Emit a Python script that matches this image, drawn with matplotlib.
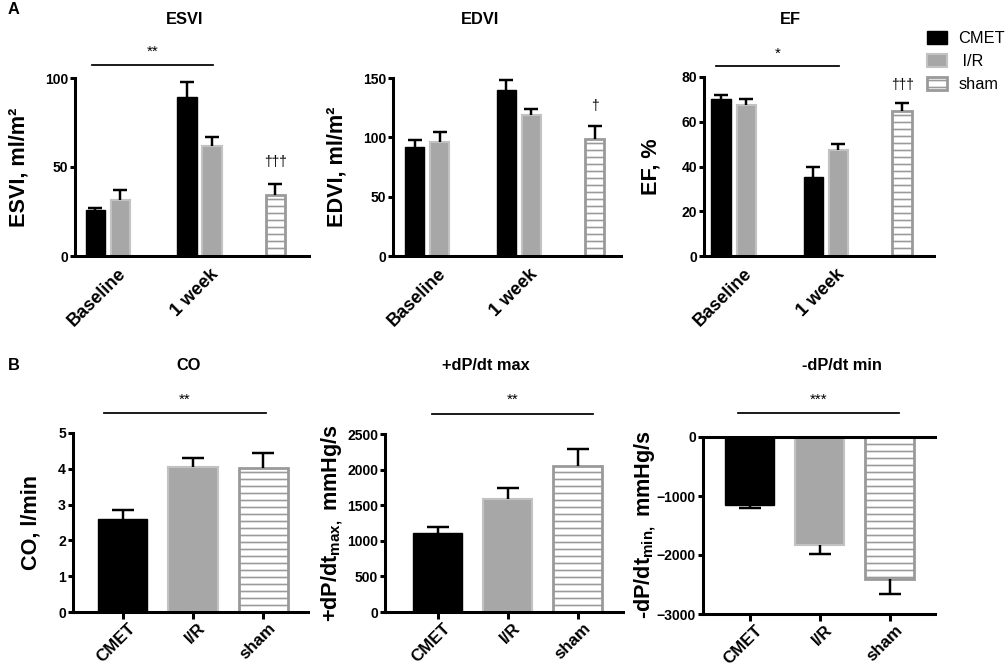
import numpy as np
import matplotlib
matplotlib.use("Agg")
import matplotlib.pyplot as plt
from matplotlib.lines import Line2D
from matplotlib.transforms import ScaledTranslation

plt.rcParams['font.family'] = ['Liberation Sans', 'DejaVu Sans']
plt.rcParams['font.weight'] = 'bold'
plt.rcParams['axes.labelweight'] = 'bold'
plt.rcParams['mathtext.fontset'] = 'custom'
plt.rcParams['mathtext.rm'] = 'Liberation Sans:bold'
plt.rcParams['mathtext.bf'] = 'Liberation Sans:bold'
plt.rcParams['hatch.linewidth'] = 1.4

# ---- data ----
groups = ['CMET', 'I/R', 'sham']
time_labels = ['Baseline', '1 week']

# echo: CMET / I/R at baseline and 1 week, sham single value
esvi_cmet = [25.7, 89.5]
esvi_cmet_err = [1.5, 8.1]
esvi_ir = [31.5, 61.9]
esvi_ir_err = [5.3, 4.7]
esvi_sham = [34.0]
esvi_sham_err = [6.3]

edvi_cmet = [91.6, 140.1]
edvi_cmet_err = [6.2, 7.9]
edvi_ir = [96.4, 118.4]
edvi_ir_err = [8.2, 5.6]
edvi_sham = [99.0]
edvi_sham_err = [10.7]

ef_cmet = [70.1, 35.3]
ef_cmet_err = [1.9, 4.4]
ef_ir = [67.3, 47.4]
ef_ir_err = [2.8, 2.5]
ef_sham = [65.0]
ef_sham_err = [3.4]

# haemodynamics: CMET, I/R, sham
co = [2.61, 4.05, 4.02]
co_err = [0.25, 0.25, 0.41]
dpdt_max = [1111, 1581, 2054]
dpdt_max_err = [80, 159, 240]
dpdt_min = [-1148, -1829, -2409]
dpdt_min_err = [51, 158, 253]

# ---- layout ----
W, H, DPI = 1008, 667, 84
fig = plt.figure(figsize=(W / DPI, H / DPI), dpi=DPI)

def px_rect(x0, x1, y0, y1):
    return [x0 / W, 1 - y1 / H, (x1 - x0) / W, (y1 - y0) / H]

STYLE = {
    'CMET': dict(facecolor='#000000', edgecolor='#000000', linewidth=1.2),
    'I/R': dict(facecolor='#a7a7a7', edgecolor='#c2c2c2', linewidth=1.8),
    'sham': dict(facecolor='white', edgecolor='#9a9a9a', linewidth=2.4, hatch='--'),
}

def err_bars(ax, x, vals, errs, capsize):
    vals = np.asarray(vals, float)
    errs = np.asarray(errs, float)
    neg = vals < 0
    lo = np.where(neg, errs, 0)
    hi = np.where(neg, 0, errs)
    _, caps, _ = ax.errorbar(x, vals, yerr=[lo, hi], fmt='none', ecolor='black',
                             elinewidth=2.1, capsize=capsize, capthick=2.1, zorder=3)
    for c in caps:
        if np.allclose(np.asarray(c.get_ydata(), float), vals):
            c.set_visible(False)

def style_axes(ax, ylim, yticks):
    for s in ['top', 'right']:
        ax.spines[s].set_visible(False)
    for s in ['left', 'bottom']:
        ax.spines[s].set_linewidth(2.6)
    ax.set_ylim(ylim)
    ax.set_yticks(yticks)
    ax.tick_params(axis='y', length=4.5, width=2.6, labelsize=12, pad=1.5)

def shift_labels(ax, dx_px):
    off = ScaledTranslation(dx_px / DPI, 0, fig.dpi_scale_trans)
    for lab in ax.get_xticklabels():
        lab.set_transform(lab.get_transform() + off)

def set_ylabel_px(ax, text, rect_, xpx, ypx):
    ax.set_ylabel(text, fontsize=18.5, fontweight='bold')
    x0, y0, w, h = rect_
    ax.yaxis.set_label_coords((xpx / W - x0) / w, ((1 - ypx / H) - y0) / h)

def sig_line(x0, x1, y, stars, ystar):
    fig.add_artist(Line2D([x0 / W, x1 / W], [1 - y / H, 1 - y / H], color='black', lw=1.5))
    fig.text((x0 + x1) / 2 / W, 1 - ystar / H, stars, ha='center', va='center',
             fontsize=13, fontweight='normal')

pos_cmet = [0, 3.67]
pos_ir = [1, 4.67]
pos_sham = [7.2]
bw_top = 0.77

def top_panel(rect_, cm, cm_e, ir, ir_e, sh, sh_e, ylim, yticks, xlim, ylabel, lab_px, title, title_px):
    ax = fig.add_axes(rect_)
    bars = []
    bars.append(ax.bar(pos_cmet, cm, bw_top, label='CMET', **STYLE['CMET']))
    bars.append(ax.bar(pos_ir, ir, bw_top, label='I/R', **STYLE['I/R']))
    bars.append(ax.bar(pos_sham, sh, bw_top, label='sham', **STYLE['sham']))
    err_bars(ax, pos_cmet, cm, cm_e, 6)
    err_bars(ax, pos_ir, ir, ir_e, 6)
    err_bars(ax, pos_sham, sh, sh_e, 6)
    style_axes(ax, ylim, yticks)
    ax.set_xlim(xlim)
    ax.set_xticks([(a + b) / 2 for a, b in zip(pos_cmet, pos_ir)])
    ax.set_xticklabels(time_labels, rotation=45, ha='right', va='top',
                       rotation_mode='anchor', fontsize=15.5, fontweight='bold')
    ax.tick_params(axis='x', length=0, pad=8)
    shift_labels(ax, 10)
    set_ylabel_px(ax, ylabel, rect_, *lab_px)
    fig.text(title_px[0] / W, 1 - title_px[1] / H, title, ha='center', va='center', fontsize=14)
    return ax, bars

r = px_rect(75, 309, 78, 256)
ax1, _ = top_panel(r, esvi_cmet, esvi_cmet_err, esvi_ir, esvi_ir_err, esvi_sham, esvi_sham_err,
                   (0, 100), [0, 50, 100], (-0.81, 8.55), 'ESVI, ml/m²', (30, 167), 'ESVI', (185, 20))
ax1.text(pos_sham[0], 52.8, '†††', ha='center', va='center', fontsize=12, fontweight='normal')

r = px_rect(393, 621, 78, 256)
ax2, _ = top_panel(r, edvi_cmet, edvi_cmet_err, edvi_ir, edvi_ir_err, edvi_sham, edvi_sham_err,
                   (0, 150), [0, 50, 100, 150], (-0.86, 8.25), 'EDVI, ml/m²', (347, 167), 'EDVI', (480, 20))
ax2.text(pos_sham[0], 126.6, '†', ha='center', va='center', fontsize=12, fontweight='normal')

r = px_rect(704, 934, 77, 256)
ax3, bars3 = top_panel(r, ef_cmet, ef_cmet_err, ef_ir, ef_ir_err, ef_sham, ef_sham_err,
                       (0, 80), [0, 20, 40, 60, 80], (-0.68, 8.47), 'EF, %', (662, 167), 'EF', (790, 20))
ax3.text(pos_sham[0], 76.4, '†††', ha='center', va='center', fontsize=12, fontweight='normal')

sig_line(92, 213, 65, '**', 52)
sig_line(716, 839, 66, '*', 54)

fig.legend(handles=bars3, labels=['CMET', ' I/R', 'sham'], loc='upper left',
           bbox_to_anchor=(920 / W, 1 - 24 / H),
           frameon=False, prop={'size': 14, 'weight': 'normal'}, labelspacing=0.5,
           handlelength=1.25, handleheight=0.85, handletextpad=0.7, borderaxespad=0)

# ---- bottom row ----
pos3 = [0, 1, 2]
bw_bot = 0.7

def bottom_panel(rect_, vals, errs, ylim, yticks, xlim, ylabel, lab_px, title, title_px):
    ax = fig.add_axes(rect_)
    for p, v, g in zip(pos3, vals, groups):
        ax.bar([p], [v], bw_bot, **STYLE[g])
    err_bars(ax, pos3, vals, errs, 9.5)
    style_axes(ax, ylim, yticks)
    ax.set_xlim(xlim)
    ax.set_xticks(pos3)
    ax.set_xticklabels(groups, rotation=45, ha='right', va='top',
                       rotation_mode='anchor', fontsize=14.5, fontweight='bold')
    ax.tick_params(axis='x', length=6, width=2.6, pad=1)
    shift_labels(ax, 5)
    set_ylabel_px(ax, ylabel, rect_, *lab_px)
    fig.text(title_px[0] / W, 1 - title_px[1] / H, title, ha='center', va='center', fontsize=14)
    return ax

r = px_rect(73, 308, 433, 612)
bottom_panel(r, co, co_err, (0, 5), [0, 1, 2, 3, 4, 5], (-0.71, 2.64), 'CO, l/min', (42, 523),
             'CO', (189, 365))

r = px_rect(385, 623, 434, 612)
bottom_panel(r, dpdt_max, dpdt_max_err, (0, 2500), [0, 500, 1000, 1500, 2000, 2500], (-0.75, 2.65),
             r'+dP/dt$_{\mathbf{max,}}$ mmHg/s', (345, 523), '+dP/dt max', (486, 365))

r = px_rect(703, 935, 437, 614)
ax6 = bottom_panel(r, dpdt_min, dpdt_min_err, (-3000, 0), [-3000, -2000, -1000, 0], (-0.67, 2.65),
                   r'-dP/dt$_{\mathbf{min,}}$ mmHg/s', (658, 525), '-dP/dt min', (842, 365))
ax6.spines['top'].set_visible(True)
ax6.spines['top'].set_linewidth(2.6)

sig_line(104, 266, 413, '**', 400)
sig_line(432, 593, 414, '**', 400)
sig_line(738, 899, 413, '***', 400)

fig.text(8 / W, 1 - 10 / H, 'A', ha='left', va='center', fontsize=14)
fig.text(8 / W, 1 - 365 / H, 'B', ha='left', va='center', fontsize=14)

fig.savefig('out.png', dpi=DPI)
